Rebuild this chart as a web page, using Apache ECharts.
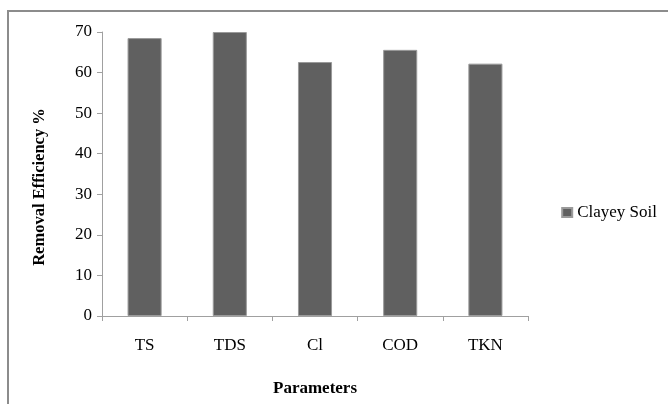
<!DOCTYPE html>
<html>
<head>
<meta charset="utf-8">
<script src="https://cdn.jsdelivr.net/npm/echarts@6/dist/echarts.min.js"></script>
<style>html,body{margin:0;padding:0;background:#fff;}#c{width:668px;height:404px;}</style>
</head>
<body>
<div id="c"></div>
<script>
var categories = ['TS', 'TDS', 'Cl', 'COD', 'TKN'];
var clayeySoil = [68.5, 70.0, 62.6, 65.6, 62.2];
var seriesName = 'Clayey Soil';
var yTicks = [0, 10, 20, 30, 40, 50, 60, 70];

var font = '"Liberation Serif", "Times New Roman", serif';
var chart = echarts.init(document.getElementById('c'));
chart.setOption({
  animation: false,
  backgroundColor: '#ffffff',
  graphic: [{
    type: 'rect', shape: {x: 8, y: 11, width: 700, height: 450},
    style: {fill: 'none', stroke: '#8c8c8c', lineWidth: 2}, silent: true
  }],
  grid: {left: 102, right: 140, top: 32, bottom: 88},
  legend: {
    data: [seriesName], right: 11, top: 204, padding: 0,
    itemWidth: 10, itemHeight: 9, itemGap: 4,
    icon: 'rect',
    textStyle: {fontFamily: font, fontSize: 17, color: '#000'}
  },
  xAxis: {
    type: 'category', data: categories,
    name: 'Parameters', nameLocation: 'middle', nameGap: 64,
    nameTextStyle: {fontFamily: font, fontSize: 17, fontWeight: 'bold', color: '#000'},
    axisLine: {lineStyle: {color: '#a0a0a0', width: 1}},
    axisTick: {show: true, length: 5, lineStyle: {color: '#a0a0a0'}},
    axisLabel: {fontFamily: font, fontSize: 17, color: '#000', margin: 21}
  },
  yAxis: {
    type: 'value', min: 0, max: 70, interval: 10,
    name: 'Removal Efficiency %', nameLocation: 'middle', nameGap: 54, nameRotate: 90,
    nameTextStyle: {fontFamily: font, fontSize: 16.5, fontWeight: 'bold', color: '#000', padding: [0, 26, 0, 0]},
    axisLine: {show: true, lineStyle: {color: '#a0a0a0', width: 1}},
    axisTick: {show: true, length: 5, lineStyle: {color: '#a0a0a0'}},
    splitLine: {show: false},
    axisLabel: {fontFamily: font, fontSize: 17, color: '#000', margin: 10,
      formatter: function (v) { return yTicks.indexOf(v) >= 0 ? String(v) : ''; }}
  },
  series: [{
    name: seriesName, type: 'bar', data: clayeySoil, barWidth: '40%',
    itemStyle: {color: '#606060', borderColor: '#9a9a9a', borderWidth: 1}
  }]
});
</script>
</body>
</html>
